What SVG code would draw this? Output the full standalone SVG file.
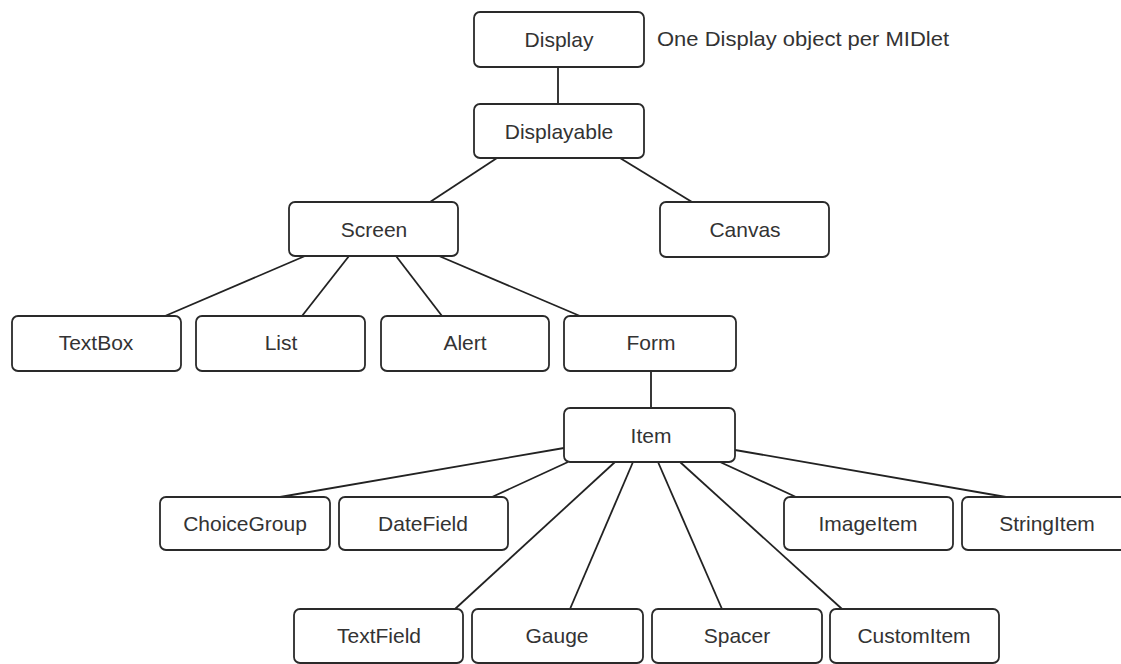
<svg xmlns="http://www.w3.org/2000/svg" width="1121" height="664" viewBox="0 0 1121 664">
  <style>
    .box { fill: #ffffff; stroke: #2a2a2a; stroke-width: 1.8; }
    .lbl { font-family: "Liberation Sans", Arial, sans-serif; font-size: 21px; fill: #333333; text-anchor: middle; }
    .note { font-family: "Liberation Sans", Arial, sans-serif; font-size: 21px; fill: #333333; }
    .edge { stroke: #222222; stroke-width: 1.8; fill: none; }
  </style>
  <rect x="0" y="0" width="1121" height="664" fill="#ffffff"/>
  <g id="connectors">
    <line class="edge" x1="558" y1="67" x2="558" y2="104"/>
    <line class="edge" x1="497" y1="158" x2="430" y2="202"/>
    <line class="edge" x1="620" y1="158" x2="692" y2="202"/>
    <line class="edge" x1="305" y1="256" x2="165" y2="316"/>
    <line class="edge" x1="349" y1="256" x2="302" y2="316"/>
    <line class="edge" x1="396" y1="256" x2="442" y2="316"/>
    <line class="edge" x1="439" y1="256" x2="580" y2="316"/>
    <line class="edge" x1="651" y1="371" x2="651" y2="408"/>
    <line class="edge" x1="564" y1="448" x2="280" y2="497"/>
    <line class="edge" x1="568" y1="462" x2="492" y2="497"/>
    <line class="edge" x1="615" y1="462" x2="455" y2="609"/>
    <line class="edge" x1="633" y1="462" x2="570" y2="609"/>
    <line class="edge" x1="658" y1="462" x2="722" y2="609"/>
    <line class="edge" x1="680" y1="462" x2="842" y2="609"/>
    <line class="edge" x1="720" y1="462" x2="796" y2="497"/>
    <line class="edge" x1="735" y1="450" x2="1006" y2="497"/>
  </g>
  <g id="display">
    <rect class="box" x="474" y="12" width="170" height="55" rx="6"/>
    <text class="lbl" x="559" y="47">Display</text>
  </g>
  <g id="note">
    <text class="note" x="657" y="46" textLength="292" lengthAdjust="spacingAndGlyphs">One Display object per MIDlet</text>
  </g>
  <g id="displayable">
    <rect class="box" x="474" y="104" width="170" height="54" rx="6"/>
    <text class="lbl" x="559" y="139">Displayable</text>
  </g>
  <g id="screen">
    <rect class="box" x="289" y="202" width="169" height="54" rx="6"/>
    <text class="lbl" x="374" y="237">Screen</text>
  </g>
  <g id="canvas">
    <rect class="box" x="660" y="202" width="169" height="55" rx="6"/>
    <text class="lbl" x="745" y="237">Canvas</text>
  </g>
  <g id="textbox">
    <rect class="box" x="12" y="316" width="169" height="55" rx="6"/>
    <text class="lbl" x="96" y="350">TextBox</text>
  </g>
  <g id="list">
    <rect class="box" x="196" y="316" width="169" height="55" rx="6"/>
    <text class="lbl" x="281" y="350">List</text>
  </g>
  <g id="alert">
    <rect class="box" x="381" y="316" width="168" height="55" rx="6"/>
    <text class="lbl" x="465" y="350">Alert</text>
  </g>
  <g id="form">
    <rect class="box" x="564" y="316" width="172" height="55" rx="6"/>
    <text class="lbl" x="651" y="350">Form</text>
  </g>
  <g id="item">
    <rect class="box" x="564" y="408" width="171" height="54" rx="6"/>
    <text class="lbl" x="651" y="443">Item</text>
  </g>
  <g id="choicegroup">
    <rect class="box" x="160" y="497" width="170" height="53" rx="6"/>
    <text class="lbl" x="245" y="531">ChoiceGroup</text>
  </g>
  <g id="datefield">
    <rect class="box" x="339" y="497" width="169" height="53" rx="6"/>
    <text class="lbl" x="423" y="531">DateField</text>
  </g>
  <g id="imageitem">
    <rect class="box" x="784" y="497" width="169" height="53" rx="6"/>
    <text class="lbl" x="868" y="531">ImageItem</text>
  </g>
  <g id="stringitem">
    <rect class="box" x="962" y="497" width="170" height="53" rx="6"/>
    <text class="lbl" x="1047" y="531">StringItem</text>
  </g>
  <g id="textfield">
    <rect class="box" x="294" y="609" width="169" height="54" rx="6"/>
    <text class="lbl" x="379" y="643">TextField</text>
  </g>
  <g id="gauge">
    <rect class="box" x="472" y="609" width="171" height="54" rx="6"/>
    <text class="lbl" x="557" y="643">Gauge</text>
  </g>
  <g id="spacer">
    <rect class="box" x="652" y="609" width="170" height="54" rx="6"/>
    <text class="lbl" x="737" y="643">Spacer</text>
  </g>
  <g id="customitem">
    <rect class="box" x="830" y="609" width="169" height="54" rx="6"/>
    <text class="lbl" x="914" y="643">CustomItem</text>
  </g>
</svg>
